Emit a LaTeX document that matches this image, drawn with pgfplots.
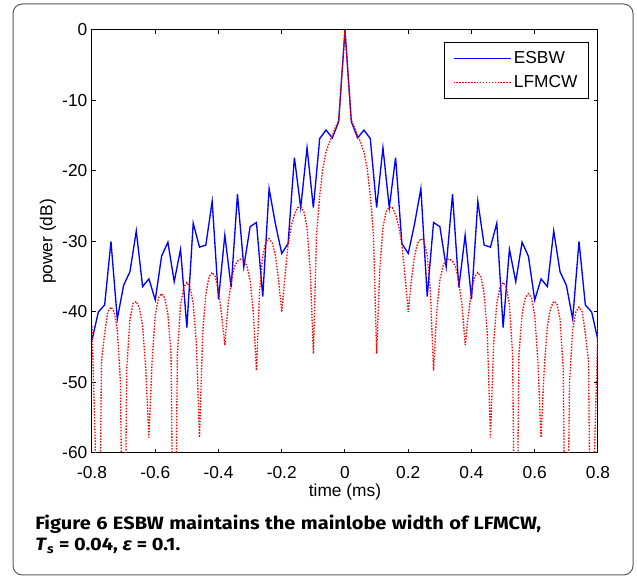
\documentclass[border=0pt]{standalone}
\usepackage{pgfplots}
\pgfplotsset{compat=1.18}
\usepackage{fontspec}
\setmainfont{Liberation Sans}
\newfontfamily\capfont[FakeStretch=1.12]{Fira Sans}

\begin{document}
\begin{tikzpicture}
\path[use as bounding box] (0,0) rectangle (477.75pt,433.5pt);
\draw[black!65, line width=0.75pt, rounded corners=7pt] (9.75pt,2.25pt) rectangle (474.75pt,430.5pt);
\begin{axis}[
    at={(69pt,93.75pt)}, anchor=south west,
    scale only axis, width=379.5pt, height=317.25pt,
    xmin=-0.8, xmax=0.8, ymin=-60, ymax=0,
    xtick={-0.8,-0.6,-0.4,-0.2,0,0.2,0.4,0.6,0.8},
    ytick={-60,-50,-40,-30,-20,-10,0},
    tick align=inside, major tick length=3pt,
    axis line style={line width=0.75pt},
    every tick/.style={black, line width=0.75pt},
    font=\fontsize{13}{15}\selectfont,
    /pgf/number format/assume math mode=true,
    xticklabel style={yshift=-6.5pt},
    xlabel={time (ms)}, ylabel={power (dB)},
    xlabel style={at={(axis description cs:0.5,-0.092)}, anchor=center},
    ylabel style={at={(axis description cs:-0.087,0.5)}, anchor=center},
    legend style={at={(1,1)}, anchor=north east, xshift=-6.75pt, yshift=-9pt,
        draw=black, line width=0.75pt, inner xsep=6.3pt, inner ysep=4.9pt, row sep=3.2pt,
        cells={anchor=west}, font=\fontsize{13}{15}\selectfont},
    legend image code/.code={\draw[#1] (0pt,0pt) -- (42.75pt,0pt);},
]
\addplot[blue, line width=1pt] coordinates {
(-0.80,-44.0)(-0.78,-40.0)(-0.76,-39.0)(-0.74,-30.0)(-0.72,-41.0)(-0.70,-36.2)(-0.68,-34.3)(-0.66,-28.5)(-0.64,-36.4)(-0.62,-35.3)(-0.60,-38.3)(-0.58,-32.1)(-0.56,-30.1)(-0.54,-35.7)(-0.52,-31.1)(-0.50,-42.2)(-0.48,-27.4)(-0.46,-30.8)(-0.44,-30.5)(-0.42,-24.3)(-0.40,-38.2)(-0.38,-29.1)(-0.36,-36.5)(-0.34,-23.3)(-0.32,-33.6)(-0.30,-27.9)(-0.28,-27.3)(-0.26,-37.8)(-0.24,-22.5)(-0.22,-27.5)(-0.20,-31.7)(-0.18,-30.3)(-0.16,-18.1)(-0.14,-25.2)(-0.12,-16.7)(-0.10,-25.2)(-0.08,-15.4)(-0.06,-14.2)(-0.04,-15.3)(-0.02,-13.0)(0,0)
(0.02,-13.0)(0.04,-15.3)(0.06,-14.2)(0.08,-15.4)(0.10,-25.2)(0.12,-16.7)(0.14,-25.2)(0.16,-18.1)(0.18,-30.3)(0.20,-31.7)(0.22,-27.5)(0.24,-22.5)(0.26,-37.8)(0.28,-27.3)(0.30,-27.9)(0.32,-33.6)(0.34,-23.3)(0.36,-36.5)(0.38,-29.1)(0.40,-38.2)(0.42,-24.3)(0.44,-30.5)(0.46,-30.8)(0.48,-27.4)(0.50,-42.2)(0.52,-31.1)(0.54,-35.7)(0.56,-30.1)(0.58,-32.1)(0.60,-38.3)(0.62,-35.3)(0.64,-36.4)(0.66,-28.5)(0.68,-34.3)(0.70,-36.2)(0.72,-41.0)(0.74,-30.0)(0.76,-39.0)(0.78,-40.0)(0.80,-44.0)
};
\addlegendentry{ESBW}
\addplot[red, line width=1pt, dash pattern=on 1.1pt off 1.1pt] coordinates {
(-0.80,-42)(-0.79,-58)(-0.78,-90)(-0.77,-47)(-0.76,-43)(-0.75,-40)(-0.74,-39.3)(-0.73,-40)(-0.72,-42.5)(-0.71,-50)
(-0.70,-90)(-0.69,-48)(-0.68,-41)(-0.67,-38.8)(-0.66,-38.5)(-0.65,-39.5)(-0.64,-42)(-0.63,-48)(-0.62,-57.8)(-0.61,-47)
(-0.60,-40.5)(-0.59,-38)(-0.58,-37.4)(-0.57,-38)(-0.56,-40.3)(-0.55,-46)(-0.54,-90)(-0.53,-46)(-0.52,-39)(-0.51,-36.5)
(-0.50,-35.8)(-0.49,-36.5)(-0.48,-38.8)(-0.47,-44.5)(-0.46,-57.8)(-0.45,-43)(-0.44,-37.5)(-0.43,-35)(-0.42,-34.4)(-0.41,-35)
(-0.40,-37)(-0.39,-40.5)(-0.38,-44.7)(-0.37,-39)(-0.36,-35.8)(-0.35,-33.6)(-0.34,-32.8)(-0.33,-32.5)(-0.32,-32.6)(-0.31,-33.5)
(-0.30,-35.5)(-0.29,-40)(-0.28,-48.3)(-0.27,-37)(-0.26,-32)(-0.25,-30)(-0.24,-29.6)(-0.23,-30.2)(-0.22,-32)(-0.21,-35.5)
(-0.20,-40)(-0.19,-35)(-0.18,-30.5)(-0.17,-27.8)(-0.16,-26.2)(-0.15,-25.2)(-0.14,-25.1)(-0.13,-25.8)(-0.12,-28)(-0.11,-34)
(-0.10,-45.9)(-0.09,-29)(-0.08,-23.5)(-0.07,-19.6)(-0.06,-17.3)(-0.05,-16)(-0.04,-15)(-0.03,-13.8)(-0.02,-12.8)(-0.01,-6.4)
(0,0)
(0.01,-6.4)(0.02,-12.8)(0.03,-13.8)(0.04,-15)(0.05,-16)(0.06,-17.3)(0.07,-19.6)(0.08,-23.5)(0.09,-29)(0.10,-45.9)
(0.11,-34)(0.12,-28)(0.13,-25.8)(0.14,-25.1)(0.15,-25.2)(0.16,-26.2)(0.17,-27.8)(0.18,-30.5)(0.19,-35)(0.20,-40)
(0.21,-35.5)(0.22,-32)(0.23,-30.2)(0.24,-29.6)(0.25,-30)(0.26,-32)(0.27,-37)(0.28,-48.3)(0.29,-40)(0.30,-35.5)
(0.31,-33.5)(0.32,-32.6)(0.33,-32.5)(0.34,-32.8)(0.35,-33.6)(0.36,-35.8)(0.37,-39)(0.38,-44.7)(0.39,-40.5)(0.40,-37)
(0.41,-35)(0.42,-34.4)(0.43,-35)(0.44,-37.5)(0.45,-43)(0.46,-57.8)(0.47,-44.5)(0.48,-38.8)(0.49,-36.5)(0.50,-35.8)
(0.51,-36.5)(0.52,-39)(0.53,-46)(0.54,-90)(0.55,-46)(0.56,-40.3)(0.57,-38)(0.58,-37.4)(0.59,-38)(0.60,-40.5)
(0.61,-47)(0.62,-57.8)(0.63,-48)(0.64,-42)(0.65,-39.5)(0.66,-38.5)(0.67,-38.8)(0.68,-41)(0.69,-48)(0.70,-90)
(0.71,-50)(0.72,-42.5)(0.73,-40)(0.74,-39.3)(0.75,-40)(0.76,-43)(0.77,-47)(0.78,-90)(0.79,-58)(0.80,-42)
};
\addlegendentry{LFMCW}
\end{axis}
\node[anchor=base west, inner sep=0pt, font=\capfont\bfseries\fontsize{13.4}{16}\selectfont] at (26.25pt,36.5pt) {\makebox[379.5pt][s]{Figure 6 ESBW maintains the mainlobe width of LFMCW,}};
\node[anchor=base west, inner sep=0pt, font=\capfont\bfseries\fontsize{13.4}{16}\selectfont] at (26.25pt,20.5pt) {\textit{T}\textsubscript{\textit{s}}\hspace{3.5pt}=\hspace{3.5pt}0.04,\hspace{3.5pt}\textit{ε}\hspace{3.5pt}=\hspace{3.5pt}0.1.};
\end{tikzpicture}
\end{document}
